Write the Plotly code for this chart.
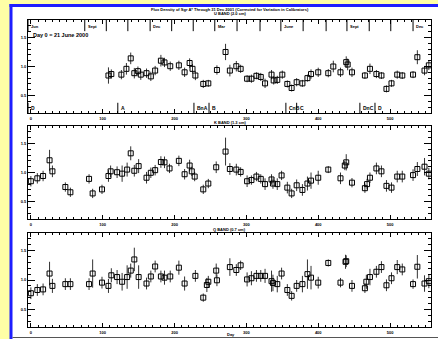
import plotly.graph_objects as go

# ---------------- data ----------------
days_U = [108,112,126,133,139,144,149,153,161,167,173,181,186,194,206,214,221,225,229,240,247,259,
          271,277,286,292,301,307,314,320,326,335,338,343,350,357,363,370,378,385,390,400,414,421,431,
          439,441,447,465,472,481,488,495,502,510,517,532,538,548,554]
flux_U = [0.845,0.87,0.86,0.96,1.14,0.885,0.92,0.86,0.885,0.83,0.93,1.10,1.07,1.005,1.02,0.90,1.06,0.96,0.845,0.70,0.71,0.94,
          1.25,0.93,1.005,0.96,0.79,0.79,0.84,0.82,0.71,0.86,0.76,0.77,0.86,0.70,0.63,0.73,0.71,0.80,0.87,0.90,0.885,1.0,0.90,
          1.075,1.035,0.90,0.845,0.96,0.87,0.845,0.615,0.71,0.86,0.845,0.86,1.16,0.93,1.02]
err_U = [0.14,0.08,0.08,0.10,0.10,0.09,0.08,0.09,0.08,0.08,0.08,0.10,0.08,0.08,0.08,0.08,0.08,0.08,0.08,0.07,0.06,0.08,
         0.14,0.10,0.09,0.07,0.06,0.07,0.06,0.07,0.08,0.08,0.07,0.07,0.07,0.06,0.06,0.07,0.06,0.06,0.08,0.08,0.07,0.10,0.08,
         0.10,0.10,0.08,0.06,0.09,0.07,0.06,0.06,0.06,0.07,0.06,0.06,0.12,0.08,0.08]

days_K = [0,9,17,26,30,48,55,81,86,99,108,111,120,127,134,139,144,150,161,167,173,181,186,193,206,214,221,224,228,240,247,258,
          271,277,286,292,301,307,314,320,326,335,337,343,349,357,363,370,378,385,390,400,414,431,437,439,447,
          465,468,472,481,488,495,502,510,517,532,538,548,554]
flux_K = [0.85,0.90,0.94,1.21,1.02,0.75,0.66,0.89,0.64,0.71,0.94,1.02,1.005,0.98,1.05,1.33,1.03,1.11,0.91,0.995,1.04,1.18,1.175,1.07,1.20,0.97,1.12,1.02,0.93,0.71,0.81,1.09,
          1.36,1.06,1.05,1.01,0.85,0.87,0.93,0.89,0.80,0.88,0.81,0.80,0.95,0.74,0.64,0.78,0.70,0.81,0.86,0.91,1.05,0.90,1.12,1.175,0.825,
          0.73,0.80,0.91,1.07,1.02,0.77,0.74,0.93,0.93,0.955,1.06,1.10,0.98]
err_K = [0.09,0.09,0.09,0.18,0.10,0.08,0.08,0.08,0.08,0.08,0.10,0.10,0.10,0.14,0.12,0.12,0.10,0.12,0.10,0.09,0.09,0.10,0.10,0.08,0.09,0.09,0.10,0.08,0.08,0.08,0.08,0.10,
         0.24,0.10,0.10,0.08,0.10,0.08,0.08,0.08,0.10,0.09,0.09,0.10,0.08,0.10,0.08,0.10,0.10,0.12,0.14,0.12,0.06,0.10,0.08,0.14,0.08,
         0.08,0.09,0.09,0.10,0.10,0.10,0.09,0.10,0.10,0.10,0.12,0.15,0.10]

days_Q = [0,9,17,26,30,48,55,81,86,99,108,112,120,127,134,139,144,150,161,167,173,181,186,194,206,214,229,240,245,247,258,259,
          277,286,292,301,307,314,320,326,335,337,343,349,357,363,370,378,385,390,400,414,431,438,439,447,
          465,467,472,481,488,495,502,510,517,532,538,548,554]
flux_Q = [0.775,0.83,0.84,1.11,0.90,0.93,0.93,0.93,1.11,0.955,0.90,1.08,1.05,0.97,1.05,1.16,1.35,1.05,0.94,1.06,1.23,1.06,1.04,1.06,1.21,0.94,1.07,0.70,0.915,0.97,1.16,0.995,
          1.22,1.17,1.25,1.01,1.03,1.07,1.07,1.07,0.98,0.95,0.93,1.11,0.83,0.73,0.90,0.93,1.10,1.04,0.955,1.29,0.955,1.31,1.32,0.90,
          0.86,0.97,1.05,1.14,1.22,0.91,1.03,1.22,1.18,0.93,1.225,0.94,0.98]
err_Q = [0.10,0.10,0.10,0.20,0.12,0.10,0.10,0.10,0.24,0.10,0.12,0.12,0.12,0.15,0.20,0.12,0.20,0.20,0.10,0.10,0.10,0.10,0.12,0.10,0.12,0.12,0.10,0.07,0.12,0.10,0.12,0.10,
         0.15,0.10,0.08,0.12,0.12,0.10,0.10,0.12,0.18,0.14,0.14,0.10,0.10,0.08,0.10,0.14,0.25,0.20,0.10,0.06,0.08,0.12,0.10,0.10,
         0.08,0.12,0.14,0.10,0.10,0.10,0.10,0.12,0.10,0.08,0.20,0.14,0.12]

month_days = [-4,75,105,135,166,196,226,256,287,319,348,379,411,440,471,501,532]
month_labels = ["Jun","Sept","","","Dec","","","Mar","","","June","","","Sept","","","Dec"]
config_days = [-4,121,227,248,355,370,458,479]
config_labels = ["D","A","BnA","B","CnB","C","DnC","D"]

x_ticks = [0,100,200,300,400,500]
y_ticks = [0.5,1.0,1.5]
panel_titles = ["U BAND (2.0 cm)", "K BAND (1.3 cm)", "Q BAND (0.7 cm)"]
main_title = "Flux Density of Sgr A* Through 31 Dec 2001 (Corrected for Variation in Calibrators)"

# ---------------- layout geometry ----------------
W, H = 438, 339
ML, MR, MT, MB = 28, 7, 20, 12
PW, PH = W - ML - MR, H - MT - MB
def px(x):  # pixel -> paper x
    return (x - ML) / PW
def py(y):  # pixel -> paper y
    return (H - MB - y) / PH

domains = [[py(113), py(20)], [py(219), py(126)], [py(327), py(233)]]
XR = [-4, 557]
FONT = "Liberation Sans"

fig = go.Figure()
series = [(days_U, flux_U, err_U), (days_K, flux_K, err_K), (days_Q, flux_Q, err_Q)]
for i, (d, f, e) in enumerate(series):
    sfx = "" if i == 0 else str(i + 1)
    fig.add_trace(go.Scatter(
        x=d, y=f, mode="markers",
        error_y=dict(type="data", array=e, color="#333333", thickness=1, width=0),
        marker=dict(symbol="square-open", size=5, color="black", line=dict(width=1, color="black")),
        xaxis="x" + sfx, yaxis="y" + sfx, showlegend=False, hoverinfo="skip"))

axis_common = dict(showline=True, linecolor="black", linewidth=1, mirror="allticks",
                   ticks="inside", tickcolor="black", showgrid=False, zeroline=False,
                   tickfont=dict(family=FONT, size=4, color="black", weight="bold"))
layout = dict(width=W, height=H, margin=dict(l=ML, r=MR, t=MT, b=MB, autoexpand=False),
              paper_bgcolor="#FFFFA6", plot_bgcolor="white",
              font=dict(family=FONT, size=4, color="black", weight="bold"), showlegend=False)
for i in range(3):
    sfx = "" if i == 0 else str(i + 1)
    layout["xaxis" + sfx] = dict(axis_common, range=XR, anchor="y" + sfx, tickvals=x_ticks,
                                 ticktext=[str(v) for v in x_ticks], ticklen=4, ticklabelstandoff=1,
                                 minor=dict(dtick=10, tick0=0, ticks="inside", ticklen=2, tickcolor="black"))
    layout["yaxis" + sfx] = dict(axis_common, range=[0.2, 1.8], anchor="x" + sfx, domain=domains[i],
                                 tickvals=y_ticks, ticktext=["0.5", "1.0", "1.5"], ticklen=7,
                                 minor=dict(dtick=0.1, tick0=0, ticks="inside", ticklen=3, tickcolor="black"))
fig.update_layout(**layout)

shapes = []
# white page with blue frame on top and left
shapes.append(dict(type="rect", xref="paper", yref="paper", x0=px(11), x1=px(470), y0=py(370), y1=py(5.5),
                   line=dict(width=0), fillcolor="white", layer="below"))
shapes.append(dict(type="line", xref="paper", yref="paper", x0=px(9.5), x1=px(470), y0=py(5.5), y1=py(5.5),
                   line=dict(color="#1E1EFF", width=3), layer="below"))
shapes.append(dict(type="line", xref="paper", yref="paper", x0=px(11), x1=px(11), y0=py(4), y1=py(370),
                   line=dict(color="#1E1EFF", width=3), layer="below"))
shapes.append(dict(type="line", xref="paper", yref="paper", x0=px(12.5), x1=px(470), y0=py(337.5), y1=py(337.5),
                   line=dict(color="#555555", width=1), layer="below"))
for d in month_days:
    shapes.append(dict(type="line", xref="x", yref="y domain", x0=d, x1=d, y0=0.88, y1=1.0,
                       line=dict(color="black", width=1)))
for d in config_days:
    shapes.append(dict(type="line", xref="x", yref="y domain", x0=d, x1=d, y0=0.0, y1=0.11,
                       line=dict(color="black", width=1)))
fig.update_layout(shapes=shapes)

ann = []
for d, lab in zip(month_days, month_labels):
    if lab:
        ann.append(dict(x=d, y=0.935, xref="x", yref="y domain", text=lab, showarrow=False,
                        xanchor="left", yanchor="middle", xshift=1, font=dict(size=4)))
for d, lab in zip(config_days, config_labels):
    ann.append(dict(x=d, y=0.055, xref="x", yref="y domain", text=lab, showarrow=False,
                    xanchor="left", yanchor="middle", xshift=1, font=dict(size=5)))
ann.append(dict(x=0, y=0.84, xref="x", yref="y domain", text="Day 0 = 21 June 2000", showarrow=False,
                xanchor="left", yanchor="middle", font=dict(size=5.5)))
ann.append(dict(x=px(230), y=py(9.5), xref="paper", yref="paper", text=main_title, showarrow=False,
                xanchor="center", yanchor="middle", font=dict(size=4)))
for t, yy in zip(panel_titles, [14, 122.5, 229.5]):
    ann.append(dict(x=px(230), y=py(yy), xref="paper", yref="paper", text=t, showarrow=False,
                    xanchor="center", yanchor="middle", font=dict(size=4)))
ann.append(dict(x=px(231), y=py(334), xref="paper", yref="paper", text="Day", showarrow=False,
                xanchor="center", yanchor="middle", font=dict(size=4)))
fig.update_layout(annotations=ann)

fig.write_html("out.html", config={"displayModeBar": False},
               post_script="document.body.style.margin='0';document.body.style.overflow='hidden';")
